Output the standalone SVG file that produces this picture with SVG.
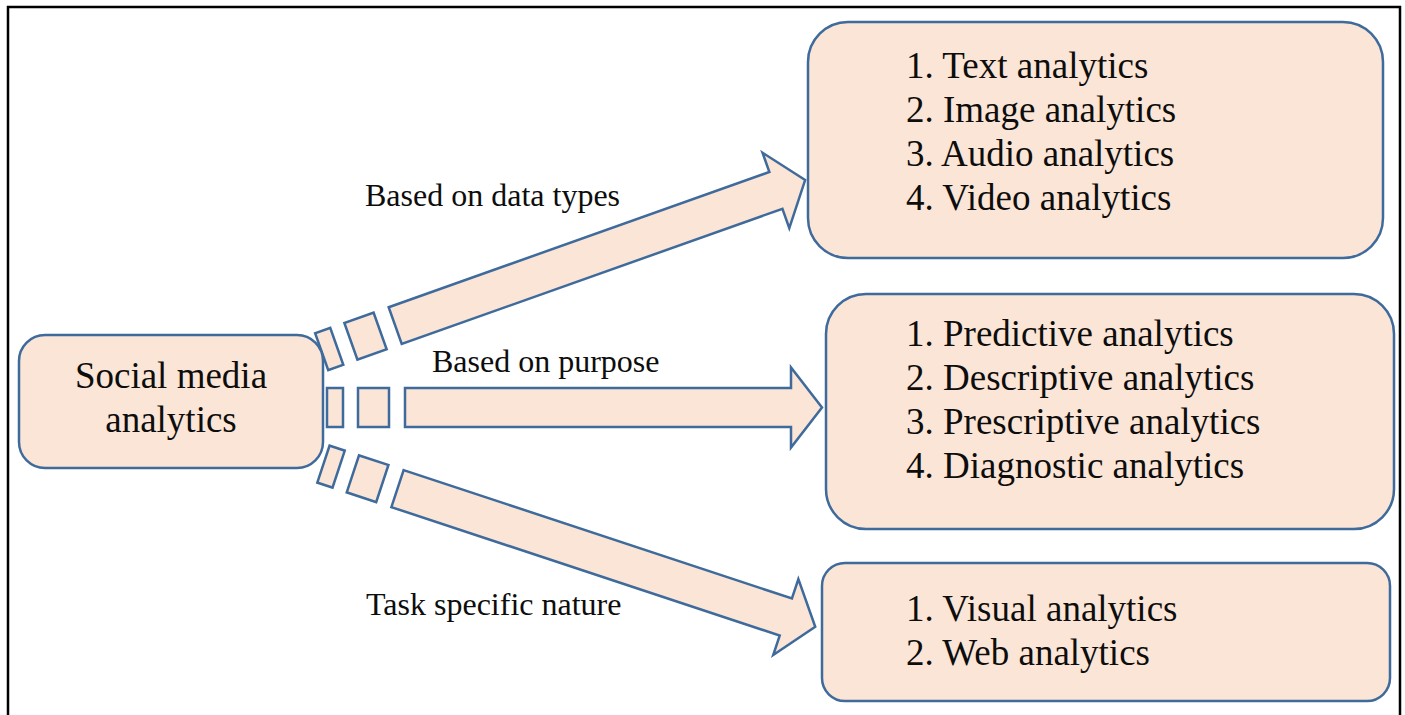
<svg xmlns="http://www.w3.org/2000/svg" width="1405" height="715" viewBox="0 0 1405 715">
<style>
.box{fill:#FBE5D6;stroke:#3E6A9C;stroke-width:2.5}
.arr{fill:#FBE5D6;stroke:#3E6A9C;stroke-width:2.5;stroke-linejoin:miter}
.t{font-family:"Liberation Serif","Times New Roman",serif;font-size:37px;fill:#0d0d0d}
.lbl{font-family:"Liberation Serif","Times New Roman",serif;font-size:32px;fill:#0d0d0d}
</style>
<defs>
<g id="stripes">
<rect x="-78" y="-19.5" width="16" height="39"/>
<rect x="-47" y="-19.5" width="31" height="39"/>
</g>
</defs>
<rect width="1405" height="715" fill="#fff"/>
<path d="M8,716 V7 H1400 V716" fill="none" stroke="#000" stroke-width="2.5"/>
<g id="connectors">
<g id="arrow-data-types" class="arr" transform="translate(395.2,325.6) rotate(-19.55)">
<use href="#stripes"/>
<path d="M0,-19.5 H404 V-40 L435,0 L404,40 V19.5 H0 Z"/>
</g>
<g id="arrow-purpose" class="arr" transform="translate(405,407.5)">
<use href="#stripes"/>
<path d="M0,-19.5 H386 V-40 L417,0 L386,40 V19.5 H0 Z"/>
</g>
<g id="arrow-task" class="arr" transform="translate(397.5,488.6) rotate(18.3)">
<use href="#stripes"/>
<path d="M0,-19.5 H409 V-40 L440,0 L409,40 V19.5 H0 Z"/>
</g>
<text class="lbl" x="365" y="206">Based on data types</text>
<text class="lbl" x="432" y="372">Based on purpose</text>
<text class="lbl" x="366" y="615">Task specific nature</text>
</g>
<g id="node-sma">
<rect class="box" x="19" y="335" width="304" height="133" rx="26"/>
<text class="t" x="171" y="388" text-anchor="middle">Social media</text>
<text class="t" x="171" y="432" text-anchor="middle">analytics</text>
</g>
<g id="node-data-types">
<rect class="box" x="808" y="22" width="575" height="236" rx="40"/>
<text class="t" x="906" y="78">1. Text analytics</text>
<text class="t" x="906" y="122">2. Image analytics</text>
<text class="t" x="906" y="166">3. Audio analytics</text>
<text class="t" x="906" y="210">4. Video analytics</text>
</g>
<g id="node-purpose">
<rect class="box" x="826" y="294" width="568" height="235" rx="40"/>
<text class="t" x="906" y="346">1. Predictive analytics</text>
<text class="t" x="906" y="390">2. Descriptive analytics</text>
<text class="t" x="906" y="434">3. Prescriptive analytics</text>
<text class="t" x="906" y="478">4. Diagnostic analytics</text>
</g>
<g id="node-task">
<rect class="box" x="822" y="563" width="568" height="138" rx="23"/>
<text class="t" x="906" y="621">1. Visual analytics</text>
<text class="t" x="906" y="665">2. Web analytics</text>
</g>
</svg>
